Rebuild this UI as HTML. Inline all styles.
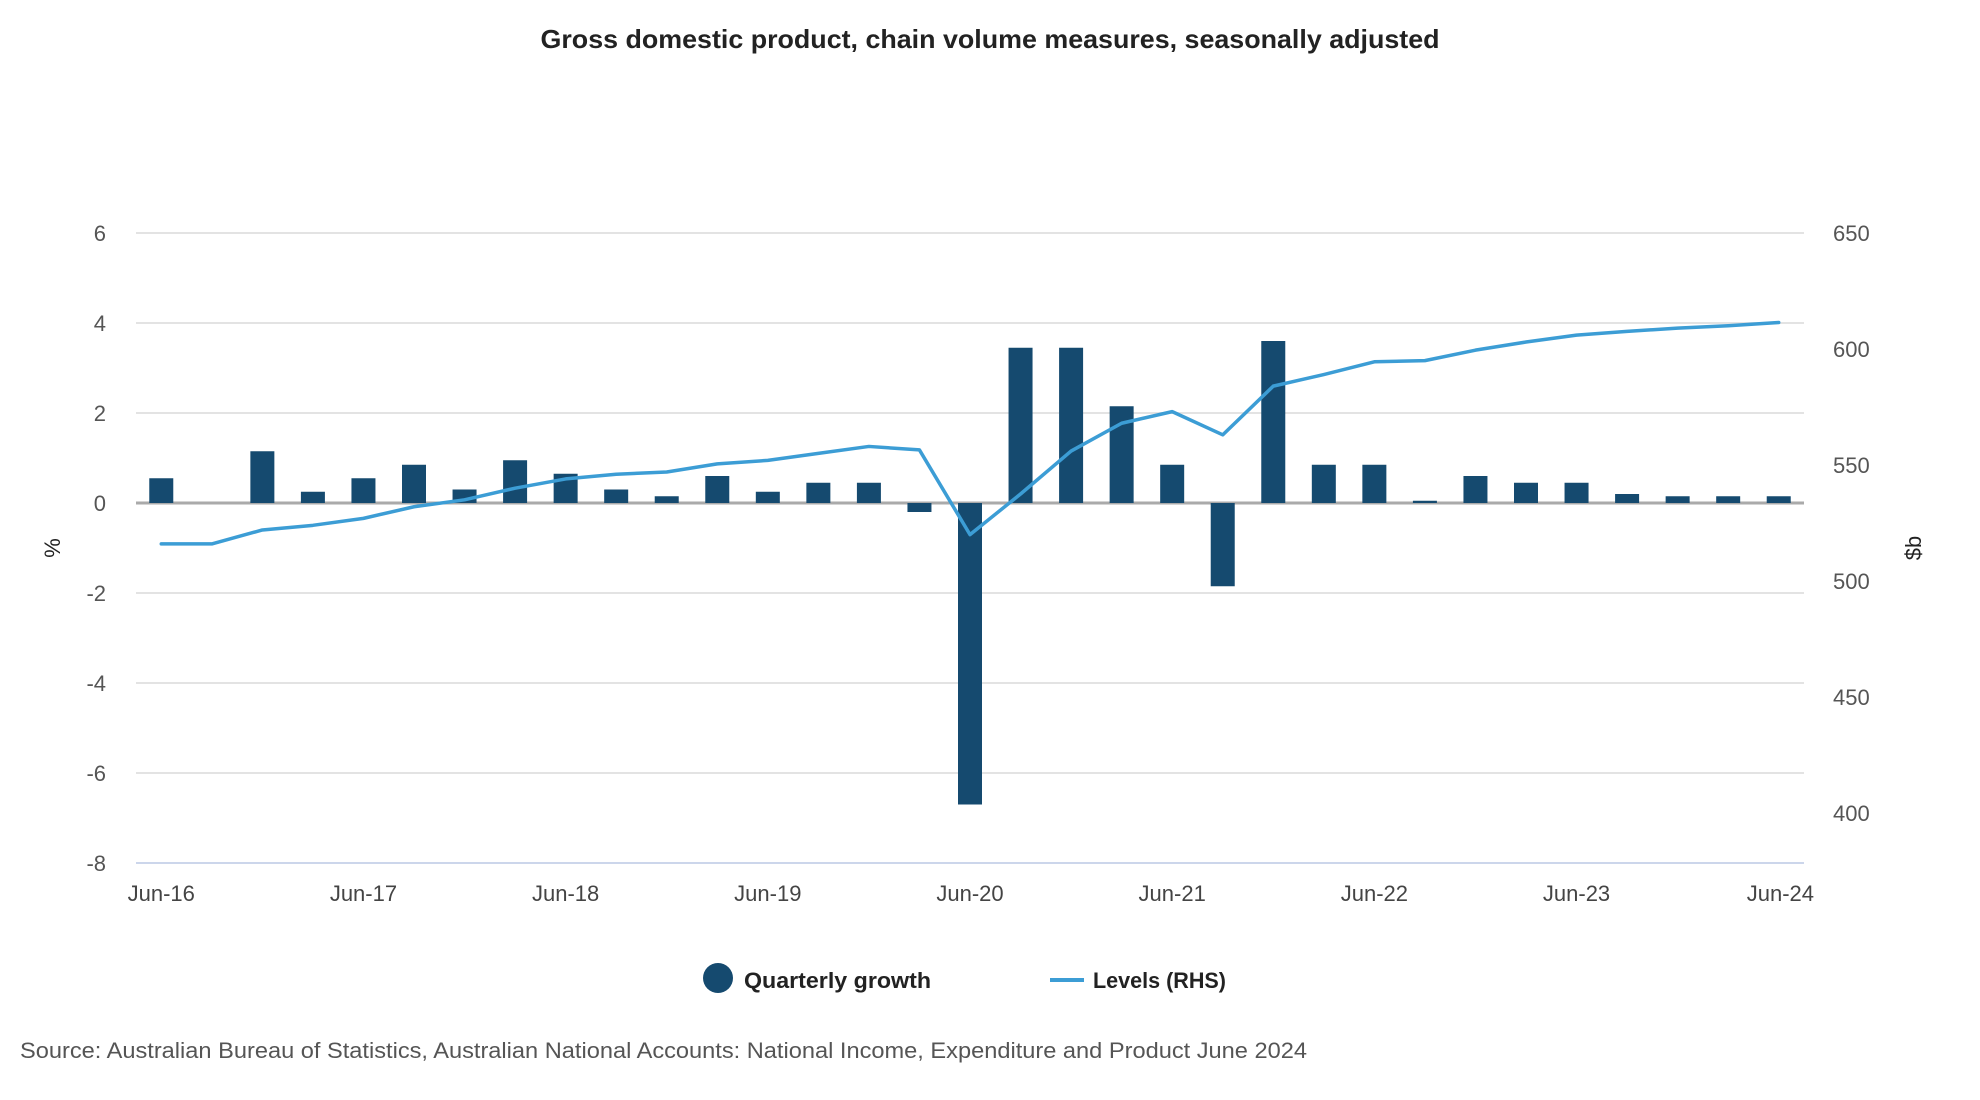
<!DOCTYPE html>
<html><head><meta charset="utf-8"><style>
body{margin:0;background:#fff;font-family:"Liberation Sans",sans-serif;}
svg{display:block}
</style></head><body>
<svg id="chart" width="1980" height="1100" xmlns="http://www.w3.org/2000/svg">
<text x="990" y="48" text-anchor="middle" font-size="26" font-weight="bold" fill="#222" textLength="899" lengthAdjust="spacingAndGlyphs">Gross domestic product, chain volume measures, seasonally adjusted</text>
<g id="grid"></g><g id="bars"></g><g id="line"></g><g id="axes"></g>
<text transform="translate(60,548) rotate(-90)" text-anchor="middle" font-size="22" fill="#222">%</text>
<text transform="translate(1921,548) rotate(-90)" text-anchor="middle" font-size="22" fill="#222">$b</text>
<g>
<circle cx="718" cy="978" r="15" fill="#154a6f"/>
<text x="744" y="988" font-size="22" font-weight="bold" fill="#222" textLength="187" lengthAdjust="spacingAndGlyphs">Quarterly growth</text>
<line x1="1050" y1="980" x2="1084" y2="980" stroke="#3c9dd5" stroke-width="4"/>
<text x="1093" y="988" font-size="22" font-weight="bold" fill="#222" textLength="133" lengthAdjust="spacingAndGlyphs">Levels (RHS)</text>
</g>
<text x="20" y="1058" font-size="22" fill="#555" textLength="1287" lengthAdjust="spacingAndGlyphs">Source: Australian Bureau of Statistics, Australian National Accounts: National Income, Expenditure and Product June 2024</text>
</svg>
<script>
const categories=["Jun-16","Sep-16","Dec-16","Mar-17","Jun-17","Sep-17","Dec-17","Mar-18","Jun-18","Sep-18","Dec-18","Mar-19","Jun-19","Sep-19","Dec-19","Mar-20","Jun-20","Sep-20","Dec-20","Mar-21","Jun-21","Sep-21","Dec-21","Mar-22","Jun-22","Sep-22","Dec-22","Mar-23","Jun-23","Sep-23","Dec-23","Mar-24","Jun-24"];
const growth=[0.55,0.0,1.15,0.25,0.55,0.85,0.3,0.95,0.65,0.3,0.15,0.6,0.25,0.45,0.45,-0.2,-6.7,3.45,3.45,2.15,0.85,-1.85,3.6,0.85,0.85,0.05,0.6,0.45,0.45,0.2,0.15,0.15,0.15];
const levels=[516,516,522,524,527,532,535,540,544,546,547,550.5,552,555,558,556.5,520,537.5,556,568,573,563,584,589,594.5,595,599.5,603,606,607.6,609,610,611.4];
const leftTicks=[6,4,2,0,-2,-4,-6,-8];
const rightTicks=[650,600,550,500,450,400];
const xLabels=["Jun-16","Jun-17","Jun-18","Jun-19","Jun-20","Jun-21","Jun-22","Jun-23","Jun-24"];

const NS="http://www.w3.org/2000/svg";
const X0=136,X1=1804,YT=233,YB=863;
const band=(X1-X0)/categories.length;
const xC=i=>X0+band*(i+0.5);
const yL=v=>YT+(6-v)/14*(YB-YT);
const yR=v=>YT+(650-v)*2.32;
function mk(tag,attrs,parent){const e=document.createElementNS(NS,tag);for(const k in attrs)e.setAttribute(k,attrs[k]);parent.appendChild(e);return e;}
const grid=document.getElementById('grid'),bars=document.getElementById('bars'),line=document.getElementById('line'),axes=document.getElementById('axes');
leftTicks.forEach(v=>{
  const g=mk('line',{x1:X0,x2:X1,y1:yL(v),y2:yL(v),stroke:v===-8?'#ccd6eb':'#e3e3e3','stroke-width':2},grid);
  
  
  const t=mk('text',{x:106,y:yL(v)+8,'text-anchor':'end','font-size':22,fill:'#555'},axes);
  t.textContent=v;
  
  
});
rightTicks.forEach(v=>{
  const t=mk('text',{x:1833,y:yR(v)+8,'font-size':22,fill:'#555'},axes);
  t.textContent=v;
  
  
});
const z=mk('line',{x1:X0,x2:X1,y1:yL(0),y2:yL(0),stroke:'#aaa','stroke-width':3},grid);


growth.forEach((v,i)=>{
  if(v===0)return;
  const y=Math.min(yL(v),yL(0)),h=Math.max(Math.abs(yL(v)-yL(0)),1);
  const r=mk('rect',{x:xC(i)-12,y:y,width:24,height:h,fill:'#154a6f'},bars);
  
  
});
const p=mk('polyline',{points:levels.map((v,i)=>xC(i)+','+yR(v)).join(' '),fill:'none',stroke:'#3c9dd5','stroke-width':3.5,'stroke-linejoin':'round','stroke-linecap':'round'},line);


xLabels.forEach(l=>{
  const i=categories.indexOf(l);
  const last=i===categories.length-1;
  const t=mk('text',{x:last?1814:xC(i),y:901,'text-anchor':last?'end':'middle','font-size':22,fill:'#444'},axes);
  t.textContent=l;
  
  
});
</script>
</body></html>
